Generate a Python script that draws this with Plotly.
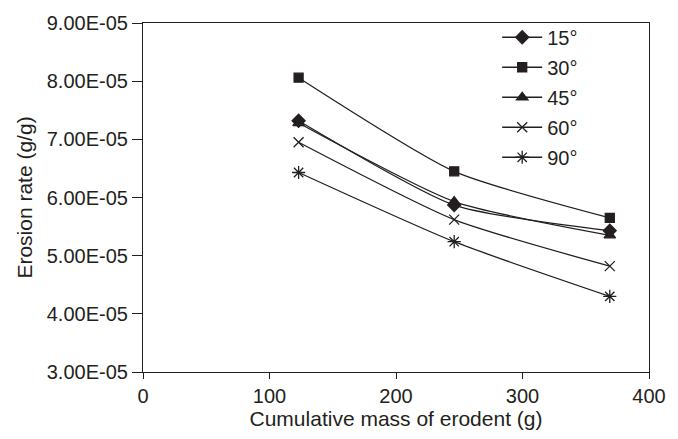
import plotly.graph_objects as go

mass = [123, 246, 369]
labels = ["15°", "30°", "45°", "60°", "90°"]
s15 = [7.32e-5, 5.87e-5, 5.43e-5]
s30 = [8.06e-5, 6.45e-5, 5.65e-5]
s45 = [7.28e-5, 5.93e-5, 5.35e-5]
s60 = [6.95e-5, 5.62e-5, 4.82e-5]
s90 = [6.43e-5, 5.24e-5, 4.30e-5]
yticks = [3e-5, 4e-5, 5e-5, 6e-5, 7e-5, 8e-5, 9e-5]
xticks = [0, 100, 200, 300, 400]

series = [s15, s30, s45, s60, s90]
symbols = ["diamond", "square", "triangle-up", "x-thin-open", "asterisk-open"]
sizes = [10, 9, 10, 10, 11]
ink = "#231f20"
FONT = "Liberation Sans, Arial, sans-serif"

fig = go.Figure()
for name, ys, sym, sz in zip(labels, series, symbols, sizes):
    fig.add_trace(go.Scatter(
        x=mass, y=ys, name=name, mode="lines+markers", legendgroup=name,
        line=dict(color=ink, width=1.3, shape="spline", smoothing=0.6),
        marker=dict(symbol=sym, size=sz, color=ink,
                    line=dict(color=ink, width=1.3)),
    ))

fig.update_layout(
    width=678, height=439,
    margin=dict(l=143, r=17, t=16, b=67),
    paper_bgcolor="white", plot_bgcolor="white",
    font=dict(family=FONT, size=20, color=ink),
    showlegend=True,
    legend=dict(x=0.70, y=1.015, xanchor="left", yanchor="top",
                bgcolor="rgba(0,0,0,0)", font=dict(size=20),
                itemwidth=40, tracegroupgap=1),
)
fig.update_xaxes(
    range=[0, 400], tickvals=xticks, ticktext=[str(v) for v in xticks],
    showgrid=False, zeroline=False, showline=True, mirror=True,
    linecolor=ink, linewidth=1.2, ticks="outside", ticklen=6,
    tickcolor=ink, tickfont=dict(size=20), ticklabeloverflow="allow",
    title=dict(text="Cumulative mass of erodent (g)", standoff=3,
               font=dict(size=21)),
)
fig.update_yaxes(
    range=[3e-5, 9e-5], tickvals=yticks,
    ticktext=[f"{v:.2E}" for v in yticks],
    showgrid=False, zeroline=False, showline=True, mirror=True,
    linecolor=ink, linewidth=1.2, ticks="outside", ticklen=10,
    tickcolor=ink, tickfont=dict(size=20), ticklabeloverflow="allow",
    title=dict(text="Erosion rate (g/g)", standoff=8, font=dict(size=21)),
)

fig.write_html("out.html")
